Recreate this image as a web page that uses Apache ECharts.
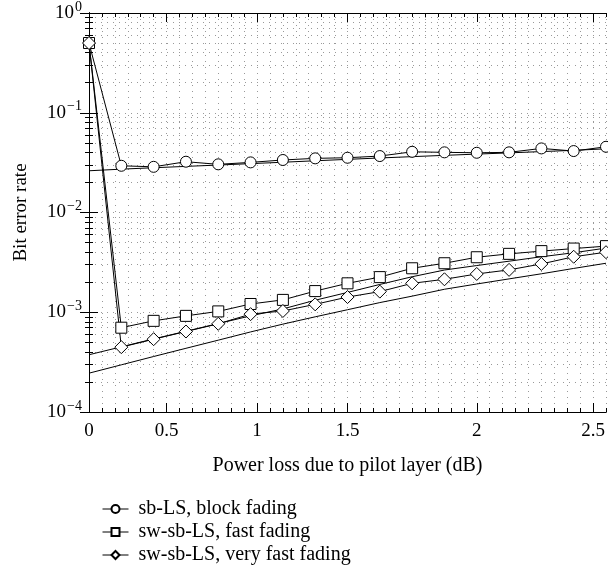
<!DOCTYPE html>
<html>
<head>
<meta charset="utf-8">
<script src="https://cdn.jsdelivr.net/npm/echarts@6/dist/echarts.min.js"></script>
<style>
html,body{margin:0;padding:0;background:#fff;}
#chart{width:608px;height:577px;}
</style>
</head>
<body>
<div id="chart"></div>
<script>
// x positions of the data points, in the figure's uniform axis units
const xPos = [0, 2.5, 5, 7.5, 10, 12.5, 15, 17.5, 20, 22.5, 25, 27.5, 30, 32.5, 35, 37.5, 40];
// x tick positions (axis units) and their labels (dB)
const xTickPos = [0, 6, 13, 20, 30, 39];
const xTickLabels = ['0', '0.5', '1', '1.5', '2', '2.5'];
// y decades shown
const yDecades = [-4, -3, -2, -1, 0];

const seriesNames = ['sb-LS, block fading', 'sw-sb-LS, fast fading', 'sw-sb-LS, very fast fading'];
const blockLS = [0.5, 0.0294, 0.0287, 0.0323, 0.0304, 0.0318, 0.0336, 0.0349, 0.0354, 0.0368, 0.0406, 0.0401, 0.0397, 0.0401, 0.0439, 0.0413, 0.0456];
const fastLS = [0.5, 7.0e-4, 8.2e-4, 9.2e-4, 1.02e-3, 1.21e-3, 1.33e-3, 1.63e-3, 1.95e-3, 2.25e-3, 2.76e-3, 3.1e-3, 3.56e-3, 3.85e-3, 4.1e-3, 4.35e-3, 4.6e-3];
const vfastLS = [0.5, 4.47e-4, 5.37e-4, 6.41e-4, 7.66e-4, 9.57e-4, 1.03e-3, 1.2e-3, 1.42e-3, 1.61e-3, 1.95e-3, 2.14e-3, 2.42e-3, 2.66e-3, 3.05e-3, 3.6e-3, 4.0e-3];
// reference curves without markers
const blockRef = [0.0262, 0.0272, 0.0281, 0.029, 0.0299, 0.0309, 0.0319, 0.033, 0.0341, 0.0352, 0.0363, 0.0374, 0.0385, 0.0396, 0.0408, 0.042, 0.0435];
const fastRef = [3.75e-4, 4.5e-4, 5.4e-4, 6.45e-4, 7.7e-4, 9.2e-4, 1.08e-3, 1.32e-3, 1.58e-3, 1.9e-3, 2.27e-3, 2.65e-3, 2.94e-3, 3.25e-3, 3.6e-3, 3.95e-3, 4.4e-3];
const vfastRef = [2.45e-4, 2.97e-4, 3.6e-4, 4.35e-4, 5.25e-4, 6.35e-4, 7.6e-4, 9.0e-4, 1.06e-3, 1.25e-3, 1.45e-3, 1.7e-3, 1.92e-3, 2.16e-3, 2.43e-3, 2.75e-3, 3.1e-3];

const FONT = '"Liberation Serif", "DejaVu Serif", serif';
const pair = (ys) => xPos.map((x, i) => [x, ys[i]]);

// log minor tick positions (2..9 x 10^k)
const yMinor = [];
for (let i = 0; i < yDecades.length - 1; i++) {
  for (let d = 2; d <= 9; d++) yMinor.push(+(d * Math.pow(10, yDecades[i])).toPrecision(6));
}

const dotted = {show: true, lineStyle: {color: '#999', width: 1, type: [1, 5]}};
const tickLine = {color: '#000', width: 1};

const xBase = {type: 'value', min: 0, max: 40, gridIndex: 0,
  axisLine: {show: true, lineStyle: {color: '#000', width: 1}}};

const xAxes = [
  Object.assign({}, xBase, {position: 'bottom', interval: 1,
    axisTick: {show: true, inside: true, length: 4, lineStyle: tickLine},
    axisLabel: {show: false}, splitLine: dotted}),
  Object.assign({}, xBase, {position: 'bottom',
    name: 'Power loss due to pilot layer (dB)', nameLocation: 'middle', nameGap: 44,
    nameTextStyle: {fontFamily: FONT, fontSize: 20, color: '#000'},
    axisTick: {show: true, inside: true, length: 9, customValues: xTickPos, lineStyle: tickLine},
    axisLabel: {show: true, customValues: xTickPos, margin: 10, fontFamily: FONT, fontSize: 19, color: '#000',
      formatter: (v) => { const i = xTickPos.indexOf(v); return i >= 0 ? xTickLabels[i] : ''; }},
    splitLine: {show: false}}),
  Object.assign({}, xBase, {position: 'top', interval: 1,
    axisTick: {show: true, inside: true, length: 4, lineStyle: tickLine},
    axisLabel: {show: false}, splitLine: {show: false}}),
  Object.assign({}, xBase, {position: 'top',
    axisTick: {show: true, inside: true, length: 9, customValues: xTickPos, lineStyle: tickLine},
    axisLabel: {show: false}, splitLine: {show: false}})
];

const expLabel = (v) => {
  const e = Math.round(Math.log10(v));
  return '10{sup|' + (e < 0 ? '\u2212' + (-e) : String(e)) + '}';
};

const yBase = {type: 'log', logBase: 10, min: 1e-4, max: 1,
  axisLine: {show: true, lineStyle: {color: '#000', width: 1}}};

const yAxes = [
  Object.assign({}, yBase, {position: 'left', interval: 1,
    name: 'Bit error rate', nameLocation: 'middle', nameGap: 58,
    nameTextStyle: {fontFamily: FONT, fontSize: 19, color: '#000'},
    axisTick: {show: true, inside: true, length: 9, lineStyle: tickLine},
    axisLabel: {show: true, margin: 7, formatter: expLabel,
      fontFamily: FONT, fontSize: 19, color: '#000',
      rich: {sup: {fontFamily: FONT, fontSize: 14, color: '#000', padding: [0, 0, 12, 1]}}},
    splitLine: dotted}),
  Object.assign({}, yBase, {position: 'right', interval: 1,
    axisTick: {show: true, inside: true, length: 9, lineStyle: tickLine},
    axisLabel: {show: false}, splitLine: {show: false}}),
  Object.assign({}, yBase, {position: 'left',
    axisTick: {show: true, inside: true, length: 4, customValues: yMinor, lineStyle: tickLine},
    axisLabel: {show: false}, splitLine: dotted}),
  Object.assign({}, yBase, {position: 'right',
    axisTick: {show: true, inside: true, length: 4, customValues: yMinor, lineStyle: tickLine},
    axisLabel: {show: false}, splitLine: {show: false}})
];

const markerSeries = (name, ys, symbol, size) => ({
  name, type: 'line', data: pair(ys), symbol, symbolSize: size, showSymbol: true,
  clip: false, z: 5,
  lineStyle: {color: '#000', width: 1},
  itemStyle: {color: '#fff', borderColor: '#000', borderWidth: 1}
});
const plainSeries = (ys) => ({
  type: 'line', data: pair(ys), symbol: 'none', z: 3,
  lineStyle: {color: '#000', width: 1}
});

const chart = echarts.init(document.getElementById('chart'), null, {renderer: 'canvas'});
chart.setOption({
  animation: false,
  backgroundColor: '#fff',
  grid: {left: 89, right: 2, top: 13, bottom: 165, containLabel: false},
  xAxis: xAxes,
  yAxis: yAxes,
  legend: {
    data: seriesNames, orient: 'vertical', left: 97, top: 494,
    itemWidth: 26, itemHeight: 10, itemGap: 3,
    lineStyle: {width: 1, color: '#000'},
    textStyle: {fontFamily: FONT, fontSize: 20, color: '#000', padding: [0, 0, 0, 5]}
  },
  series: [
    plainSeries(blockRef),
    plainSeries(fastRef),
    plainSeries(vfastRef),
    markerSeries(seriesNames[0], blockLS, 'circle', 11),
    markerSeries(seriesNames[1], fastLS, 'rect', 11),
    markerSeries(seriesNames[2], vfastLS, 'diamond', 13)
  ]
});
</script>
</body>
</html>
